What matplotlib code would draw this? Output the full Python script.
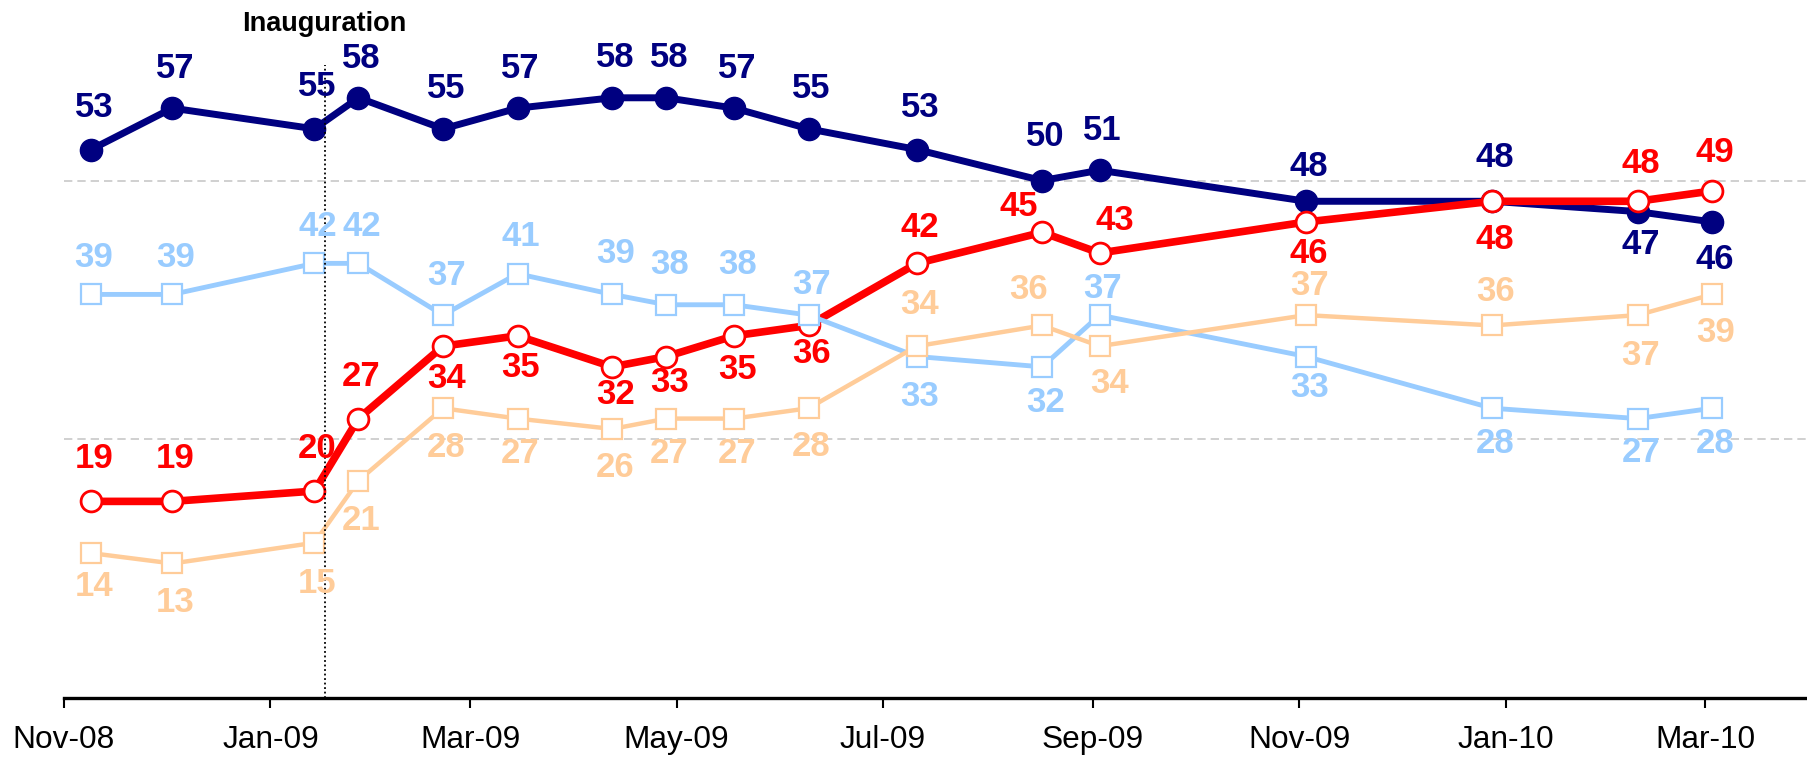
import matplotlib
matplotlib.use("Agg")
import matplotlib.pyplot as plt
import matplotlib.dates as mdates
from datetime import datetime

plt.rcParams['font.family'] = ['Liberation Sans', 'DejaVu Sans']

# survey dates
dates = [datetime(2008, 11, 9), datetime(2008, 12, 3), datetime(2009, 1, 14),
         datetime(2009, 1, 27), datetime(2009, 2, 21), datetime(2009, 3, 15),
         datetime(2009, 4, 12), datetime(2009, 4, 28), datetime(2009, 5, 18),
         datetime(2009, 6, 9), datetime(2009, 7, 11), datetime(2009, 8, 17),
         datetime(2009, 9, 3), datetime(2009, 11, 3), datetime(2009, 12, 28),
         datetime(2010, 2, 9), datetime(2010, 3, 3)]

navy_vals = [53, 57, 55, 58, 55, 57, 58, 58, 57, 55, 53, 50, 51, 48, 48, 47, 46]
red_vals = [19, 19, 20, 27, 34, 35, 32, 33, 35, 36, 42, 45, 43, 46, 48, 48, 49]
blue_vals = [39, 39, 42, 42, 37, 41, 39, 38, 38, 37, 33, 32, 37, 33, 28, 27, 28]
tan_vals = [14, 13, 15, 21, 28, 27, 26, 27, 27, 28, 34, 36, 34, 37, 36, 37, 39]

inauguration = datetime(2009, 1, 17)

# vertical label offsets in pixels (positive = above the point)
navy_dy = [42, 40, 42, 39, 40, 40, 40, 40, 40, 40, 42, 44, 40, 35, 44, -33, -38]
red_dy = [43, 43, 43, 42, -32, -32, -28, -26, -34, -28, 36, 26, 33, -32, -38, 38, 38]
blue_dy = [37, 37, 37, 37, 40, 37, 41, 40, 40, 31, -40, -36, 27, -31, -35, -34, -35]
tan_dy = [-33, -39, -41, -40, -39, -35, -39, -35, -35, -38, 42, 36, -37, 30, 34, -40, -38]

# a few labels sit off to the side
dx_extra = {('red', 11): -26, ('red', 12): 12, ('tan', 11): -17, ('tan', 12): 7}

fig = plt.figure(figsize=(18.07, 7.59), dpi=100)
ax = fig.add_axes([64 / 1807, 61 / 759, 1 - 64 / 1807, 698 / 759])

series = [
    ('navy', navy_vals, navy_dy, '#000080', 5, 'o', 16, '#000080', 1, 3),
    ('red', red_vals, red_dy, '#FF0000', 5.5, 'o', 15, 'white', 2, 4),
    ('blue', blue_vals, blue_dy, '#99CCFF', 3.5, 's', 15, 'white', 1.6, 5),
    ('tan', tan_vals, tan_dy, '#FFCC99', 3.2, 's', 15, 'white', 1.6, 6),
]

for name, vals, dys, col, lw, mk, ms, face, mew, z in series:
    ax.plot(dates, vals, color=col, lw=lw, marker=mk, ms=ms, mfc=face,
            mec=col, mew=mew, zorder=z, solid_joinstyle='round')
    for i, (d, v) in enumerate(zip(dates, vals)):
        dx = 3 + dx_extra.get((name, i), 0)
        ax.annotate(str(v), (d, v), xytext=(dx, dys[i]), textcoords='offset pixels',
                    ha='center', va='center', fontsize=25, fontweight='bold',
                    color=col, zorder=10)

# dashed reference lines
for yv in (25, 50):
    ax.axhline(yv, color='#C8C8C8', lw=1.2, dashes=(5, 3), zorder=1)

ax.plot([inauguration, inauguration], [0, 61.2], color='black', lw=1.3,
        ls=(0, (1, 1.5)), zorder=7)
ax.text(inauguration, 65.1, 'Inauguration', ha='center', va='center',
        fontsize=19.5, fontweight='bold', color='black')

ax.set_xlim(datetime(2008, 11, 1), datetime(2010, 3, 31))
ax.set_ylim(0, 67.45)

ax.xaxis.set_major_locator(mdates.MonthLocator(bymonth=[1, 3, 5, 7, 9, 11]))
ax.xaxis.set_major_formatter(mdates.DateFormatter('%b-%y'))
ax.tick_params(axis='x', direction='out', length=7, width=1.5, pad=12.5,
               labelsize=22.8, colors='black')
ax.set_yticks([])

for s in ('left', 'right', 'top'):
    ax.spines[s].set_visible(False)
ax.spines['bottom'].set_linewidth(2.4)
ax.spines['bottom'].set_color('black')

fig.savefig('out.png', dpi=100)
